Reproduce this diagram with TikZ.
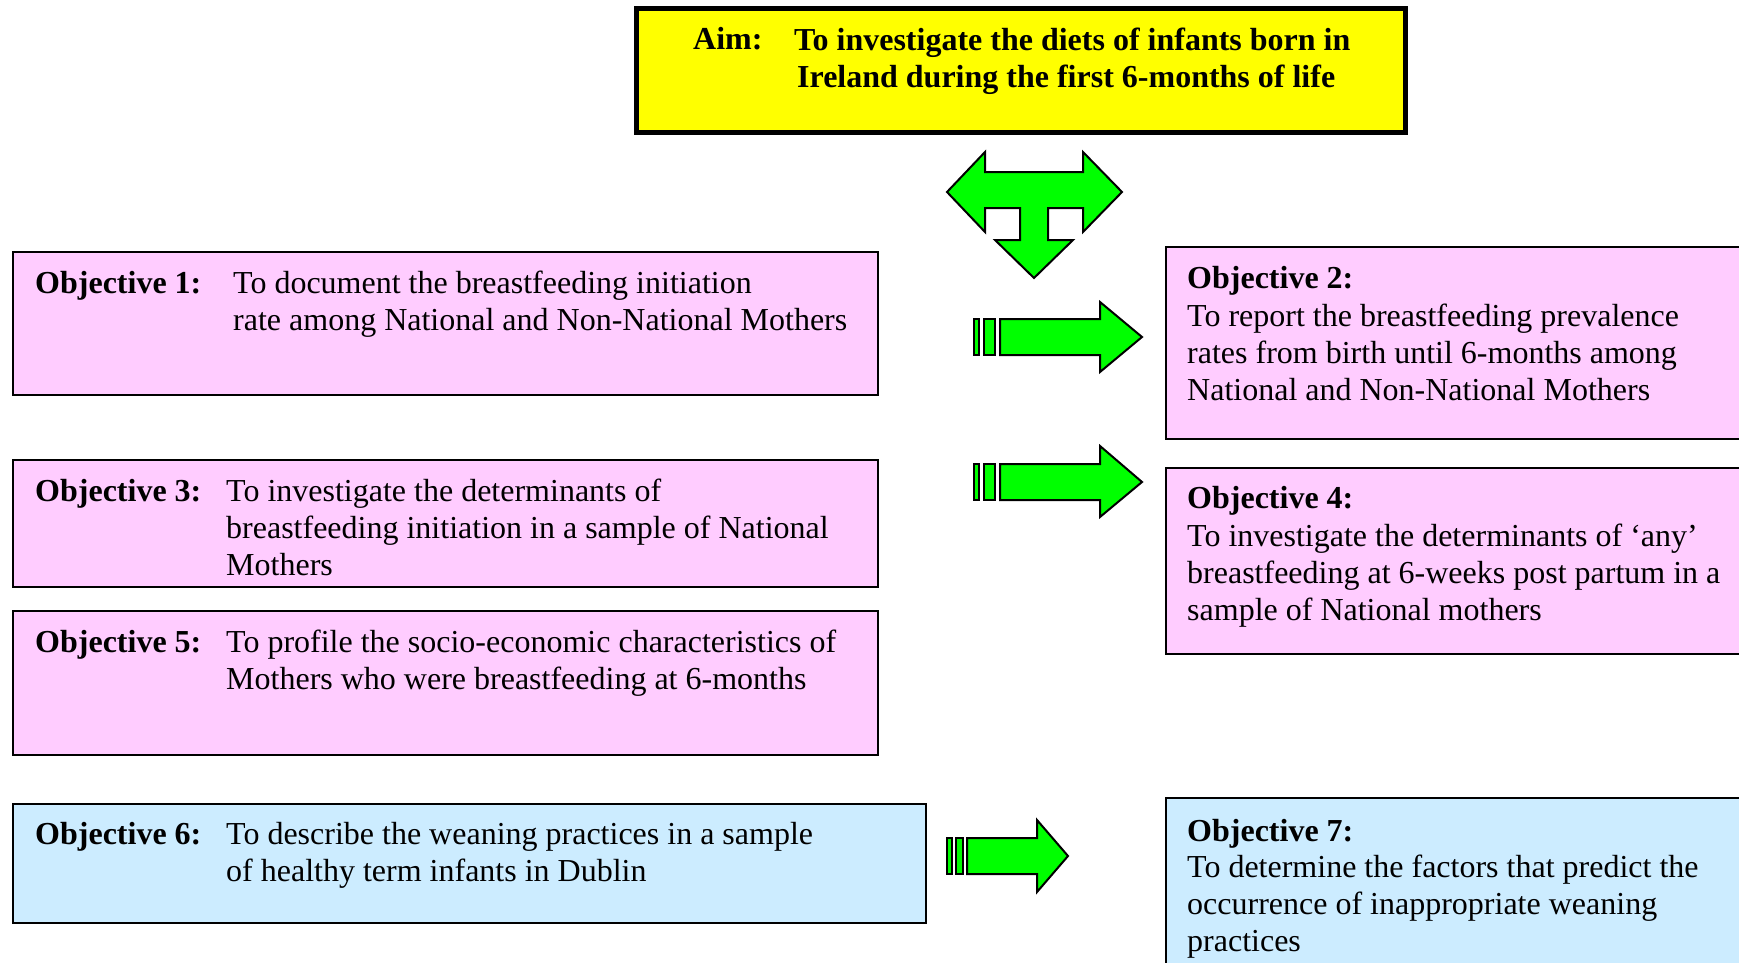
\documentclass[tikz,border=0pt]{standalone}
\usepackage{fontspec}
\setmainfont{Liberation Serif}
\definecolor{objpink}{HTML}{FFCCFF}
\definecolor{objblue}{HTML}{CCECFF}
\definecolor{aimyellow}{HTML}{FFFF00}
\definecolor{arrowgreen}{HTML}{00FF00}
\begin{document}
\begin{tikzpicture}[x=1pt,y=-1pt,
  objbox/.style={draw=black, line width=1.6pt, anchor=north west, inner sep=0pt, outer sep=0pt},
  pinkbox/.style={objbox, fill=objpink},
  bluebox/.style={objbox, fill=objblue},
  % multi-line texts are anchored on the baseline of their last line
  txt/.style={anchor=base west, inner sep=0pt, align=left, font=\fontsize{32}{37}\selectfont},
  head/.style={txt, font=\fontsize{32}{37}\selectfont\bfseries},
  blockarrow/.style={fill=arrowgreen, draw=black, line width=2pt, line join=miter}
]
\useasboundingbox (0,0) rectangle (1739,963);
\clip (0,0) rectangle (1739,963);

% aim
\node[objbox, fill=aimyellow, line width=5pt, minimum width=769pt, minimum height=124pt] (aim) at (636.5,8.5) {};
\node[head] (aimlabel) at (693,50) {Aim:};
\node[head] (aimtext) at (794,88) {To investigate the diets of infants born in\\\hspace*{3pt}Ireland during the first 6-months of life};

% left column
\node[pinkbox, minimum width=865pt, minimum height=143pt] (obj1) at (13,252) {};
\node[head] (obj1h) at (35,293) {Objective 1:};
\node[txt] (obj1t) at (233,330) {To document the breastfeeding initiation\\rate among National and Non-National Mothers};

\node[pinkbox, minimum width=865pt, minimum height=127pt] (obj3) at (13,460) {};
\node[head] (obj3h) at (35,501) {Objective 3:};
\node[txt] (obj3t) at (226,575) {To investigate the determinants of\\breastfeeding initiation in a sample of National\\Mothers};

\node[pinkbox, minimum width=865pt, minimum height=144pt] (obj5) at (13,611) {};
\node[head] (obj5h) at (35,652) {Objective 5:};
\node[txt] (obj5t) at (226,689) {To profile the socio-economic characteristics of\\Mothers who were breastfeeding at 6-months};

\node[bluebox, minimum width=913pt, minimum height=119pt] (obj6) at (13,804) {};
\node[head] (obj6h) at (35,844) {Objective 6:};
\node[txt] (obj6t) at (226,881) {To describe the weaning practices in a sample\\of healthy term infants in Dublin};

% right column
\node[pinkbox, minimum width=600pt, minimum height=192pt] (obj2) at (1166,247) {};
\node[head] (obj2h) at (1187,288) {Objective 2:};
\node[txt] (obj2t) at (1187,400) {To report the breastfeeding prevalence\\rates from birth until 6-months among\\National and Non-National Mothers};

\node[pinkbox, minimum width=600pt, minimum height=186pt] (obj4) at (1166,468) {};
\node[head] (obj4h) at (1187,508) {Objective 4:};
\node[txt] (obj4t) at (1187,620) {To investigate the determinants of `any'\\breastfeeding at 6-weeks post partum in a\\sample of National mothers};

\node[bluebox, minimum width=600pt, minimum height=200pt] (obj7) at (1166,798) {};
\node[head] (obj7h) at (1187,841) {Objective 7:};
\node[txt] (obj7t) at (1187,951) {To determine the factors that predict the\\occurrence of inappropriate weaning\\practices};

% T-shaped arrow below the aim
\draw[blockarrow] (947,192) -- (985,152) -- (985,172) -- (1083,172) -- (1083,152)
  -- (1122,192) -- (1083,232) -- (1083,208) -- (1048,208) -- (1048,240)
  -- (1073,240) -- (1034,278) -- (995,240) -- (1020,240) -- (1020,208)
  -- (985,208) -- (985,232) -- cycle;

% striped arrows
\draw[blockarrow] (974,319) rectangle (979,355);
\draw[blockarrow] (984,319) rectangle (995,355);
\draw[blockarrow] (1000,319) -- (1100,319) -- (1100,302) -- (1142,337)
  -- (1100,372) -- (1100,355) -- (1000,355) -- cycle;

\draw[blockarrow] (974,464) rectangle (979,500);
\draw[blockarrow] (984,464) rectangle (995,500);
\draw[blockarrow] (1000,464) -- (1100,464) -- (1100,446) -- (1142,482)
  -- (1100,517) -- (1100,500) -- (1000,500) -- cycle;

\draw[blockarrow] (947,838) rectangle (952,874);
\draw[blockarrow] (956,838) rectangle (963,874);
\draw[blockarrow] (967,838) -- (1037,838) -- (1037,820) -- (1068,856)
  -- (1037,892) -- (1037,874) -- (967,874) -- cycle;
\end{tikzpicture}
\end{document}
